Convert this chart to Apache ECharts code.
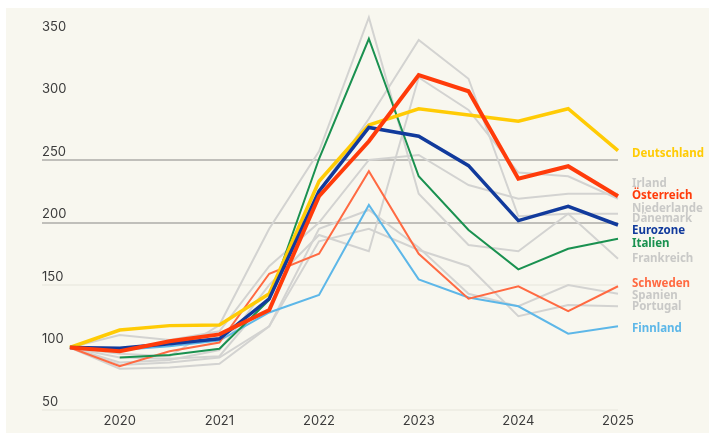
<!DOCTYPE html>
<html>
<head>
<meta charset="utf-8">
<title>Preisindex Länder</title>
<script src="https://cdn.jsdelivr.net/npm/echarts@6/dist/echarts.min.js"></script>
<style>
  html, body { margin: 0; padding: 0; background: #ffffff; }
  #main { position: absolute; left: 6px; top: 8px; width: 703px; height: 425px; background: #f8f7ef; }
</style>
</head>
<body>
<div id="main"></div>
<script>
// Halbjahres-Zeitpunkte (2019 H2 = 100)
var periods = [2019.5, 2020, 2020.5, 2021, 2021.5, 2022, 2022.5, 2023, 2023.5, 2024, 2024.5, 2025];
var yearTicks = [2020, 2021, 2022, 2023, 2024, 2025];

// graue Vergleichsländer
var irland      = [100, 88, 90, 98, 150, 190, 177, 316, 290, 240, 237, 219];
var niederlande = [100, 110, 106, 113, 165, 200, 250, 254, 230, 219, 223, 223];
var daenemark   = [100, 92, 91, 93, 140, 225, 283, 346, 315, 205, 207, 207];
var frankreich  = [100, 95, 93, 118, 195, 257, 364, 223, 182, 177, 207, 171];
var spanien     = [100, 83, 84, 87, 117, 195, 210, 180, 143, 133, 150, 143];
var portugal    = [100, 86, 88, 92, 117, 185, 195, 178, 165, 125, 134, 133];

// hervorgehobene Länder
var finnland    = [100, 98, 101, 105.5, 128, 142, 214, 154.5, 140, 133, 111, 117];
var schweden    = [100, 85, 97, 104, 159, 175, 241, 175, 139, 149, 129, 149];
var italien     = [null, 92, 94, 99, 138, 251, 347, 237, 194, 162.5, 179, 187];
var deutschland = [100, 114, 117.5, 118, 143, 233, 278, 291, 286, 281, 291, 257.5];
var eurozone    = [100, 99.5, 103, 107, 139, 225, 276, 269, 245.5, 201.5, 213, 198];
var oesterreich = [100, 97, 105, 110.5, 130, 221, 265, 318, 305, 235, 245, 221];

// Position der Beschriftungen rechts (in Indexwerten)
var labelNames = ['Deutschland', 'Irland', 'Österreich', 'Niederlande', 'Dänemark', 'Eurozone', 'Italien', 'Frankreich', 'Schweden', 'Spanien', 'Portugal', 'Finnland'];
var labelValues = [256, 232, 222, 212, 203.5, 194, 184, 171.5, 152, 142.5, 133.5, 116];

var GRAY = '#d3d3d1';
var colors = {
  'Deutschland': '#ffcb05', 'Österreich': '#ff3b0a', 'Eurozone': '#113a9c',
  'Italien': '#1a9150', 'Schweden': '#ff6a42', 'Finnland': '#5db7e8'
};

function pairs(arr) {
  return arr.map(function (v, i) { return [periods[i], v]; });
}

function line(name, arr, color, width, z) {
  return {
    name: name, type: 'line', data: pairs(arr), showSymbol: false, symbol: 'none',
    lineStyle: { color: color, width: width, join: 'miter' }, z: z, silent: true,
    clip: false, animation: false
  };
}

var series = [
  line('Irland', irland, GRAY, 2, 1),
  line('Niederlande', niederlande, GRAY, 2, 1),
  line('Dänemark', daenemark, GRAY, 2, 1),
  line('Frankreich', frankreich, GRAY, 2, 1),
  line('Spanien', spanien, GRAY, 2, 1),
  line('Portugal', portugal, GRAY, 2, 1),
  line('Finnland', finnland, colors['Finnland'], 2, 3),
  line('Schweden', schweden, colors['Schweden'], 2, 3),
  line('Italien', italien, colors['Italien'], 2, 3),
  line('Deutschland', deutschland, colors['Deutschland'], 3.5, 4),
  line('Eurozone', eurozone, colors['Eurozone'], 3.5, 5),
  line('Österreich', oesterreich, colors['Österreich'], 4, 6)
];

var myChart = echarts.init(document.getElementById('main'));

var option = {
  animation: false,
  grid: { left: 36, right: 91, top: 27, bottom: 23 },
  xAxis: {
    type: 'value', min: 2019.22, max: 2025,
    axisLine: { show: false }, axisTick: { show: false }, splitLine: { show: false },
    axisLabel: {
      customValues: yearTicks, color: '#3b3b3b', fontSize: 13, fontFamily: 'Inter',
      margin: 5, formatter: function (v) { return String(v); }
    }
  },
  yAxis: {
    type: 'value', min: 50, max: 350, interval: 50,
    axisLine: { show: false }, axisTick: { show: false },
    axisLabel: {
      inside: true, margin: 0, color: '#3b3b3b', fontSize: 13, fontFamily: 'Inter',
      verticalAlign: 'bottom', lineHeight: 16
    },
    splitLine: {
      show: true,
      lineStyle: {
        color: ['#ecebe2', 'rgba(0,0,0,0)', '#ecebe2', '#aeada8', '#aeada8', 'rgba(0,0,0,0)', 'rgba(0,0,0,0)'],
        width: 1.5
      }
    }
  },
  series: series
};

myChart.setOption(option);

// Beschriftungen am rechten Rand
var texts = labelNames.map(function (name, i) {
  var p = myChart.convertToPixel({ xAxisIndex: 0, yAxisIndex: 0 }, [2025, labelValues[i]]);
  return {
    type: 'text', left: p[0] + 14, top: p[1] - 5, z: 10,
    style: {
      text: name, fill: colors[name] || '#c9c9c7', font: '700 11.5px "Noto Sans"'
    }
  };
});
myChart.setOption({ graphic: texts });
</script>
</body>
</html>
